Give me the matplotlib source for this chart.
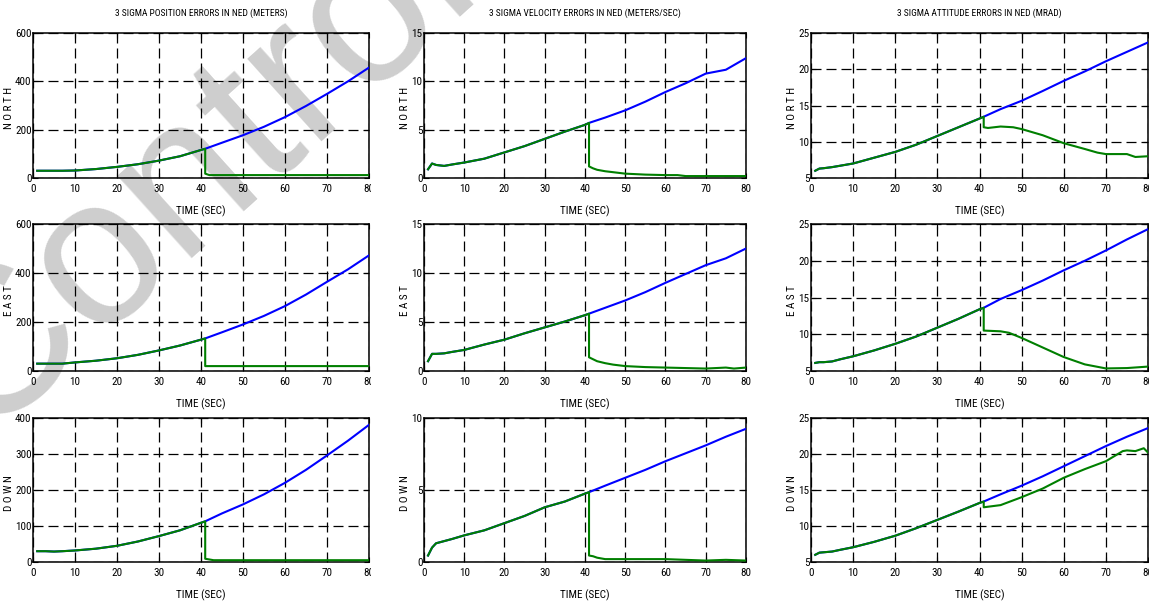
import matplotlib
matplotlib.use("Agg")
import matplotlib.pyplot as plt
from matplotlib.transforms import Bbox
from matplotlib import font_manager

# ---------------------------------------------------------------- data
time_full = [1, 2, 3, 5, 7, 10, 15, 20, 25, 30, 35, 40, 41, 45, 50, 55, 60, 65, 70, 75, 80]

# position errors (m), no update (blue)
pos_north = [30, 30, 30, 30, 30, 31, 37, 46, 57, 72, 90, 116, 121, 146, 177, 212, 252, 298, 348, 400, 457]
pos_east = [30, 30, 30, 30, 30, 35, 42, 52, 66, 84, 104, 128, 133, 158, 190, 225, 265, 312, 364, 415, 472]
pos_down = [30, 30, 30, 29, 30, 32, 37, 45, 57, 72, 88, 109, 113, 135, 160, 188, 220, 256, 296, 337, 381]

# velocity errors (m/s), no update (blue)
vel_north = [0.9, 1.5, 1.35, 1.25, 1.4, 1.6, 2.0, 2.65, 3.3, 4.05, 4.8, 5.5, 5.7, 6.25, 7.0, 7.9, 8.9, 9.8, 10.8, 11.2, 12.4]
vel_east = [1.0, 1.75, 1.75, 1.8, 1.95, 2.15, 2.7, 3.2, 3.85, 4.45, 5.05, 5.7, 5.85, 6.45, 7.2, 8.05, 9.0, 9.9, 10.8, 11.5, 12.5]
vel_down = [0.45, 1.0, 1.3, 1.45, 1.6, 1.85, 2.2, 2.7, 3.2, 3.8, 4.2, 4.75, 4.85, 5.3, 5.85, 6.4, 7.0, 7.55, 8.1, 8.7, 9.25]

# attitude errors (mrad), no update (blue)
att_north = [6.0, 6.3, 6.35, 6.5, 6.7, 7.0, 7.8, 8.6, 9.6, 10.8, 12.0, 13.2, 13.45, 14.5, 15.65, 17.0, 18.4, 19.7, 21.1, 22.4, 23.7]
att_east = [6.1, 6.2, 6.2, 6.3, 6.6, 7.0, 7.8, 8.7, 9.7, 10.9, 12.1, 13.4, 13.6, 14.8, 16.0, 17.3, 18.7, 20.0, 21.4, 22.9, 24.3]
att_down = [6.0, 6.3, 6.35, 6.45, 6.7, 7.05, 7.8, 8.65, 9.7, 10.85, 12.0, 13.2, 13.4, 14.4, 15.6, 16.9, 18.3, 19.7, 21.1, 22.4, 23.6]

# with update from t = 41 s (green), samples after the update
upd_time = 41
pos_north_t = [41, 42, 50, 60, 70, 80]
pos_north_u = [18, 12, 12, 12, 12, 12]
pos_east_t = [41, 50, 60, 70, 80]
pos_east_u = [20, 20, 20, 20, 20]
pos_down_t = [41, 42, 43, 50, 60, 70, 80]
pos_down_u = [9, 7, 5, 5, 5, 5, 5]

vel_north_t = [41, 42, 43, 45, 47, 50, 55, 60, 63, 65, 70, 80]
vel_north_u = [1.2, 1.0, 0.85, 0.7, 0.6, 0.45, 0.35, 0.3, 0.3, 0.2, 0.2, 0.2]
vel_east_t = [41, 42, 43, 45, 47, 50, 55, 60, 65, 70, 75, 77, 80]
vel_east_u = [1.4, 1.2, 1.0, 0.8, 0.65, 0.5, 0.4, 0.35, 0.3, 0.25, 0.35, 0.25, 0.35]
vel_down_t = [41, 42, 43, 45, 50, 60, 65, 70, 75, 80]
vel_down_u = [0.45, 0.4, 0.3, 0.2, 0.2, 0.2, 0.15, 0.1, 0.15, 0.1]

att_north_t = [41, 42, 45, 48, 50, 55, 60, 65, 68, 70, 75, 77, 80]
att_north_u = [12.0, 11.9, 12.1, 12.0, 11.75, 10.9, 9.8, 9.0, 8.5, 8.3, 8.3, 7.9, 8.0]
att_east_t = [41, 45, 47, 50, 55, 60, 65, 70, 75, 80]
att_east_u = [10.5, 10.4, 10.2, 9.5, 8.2, 6.9, 5.9, 5.35, 5.4, 5.6]
att_down_t = [41, 45, 50, 55, 60, 65, 70, 74, 75, 77, 79, 80]
att_down_u = [12.6, 12.9, 14.0, 15.2, 16.7, 17.9, 19.0, 20.4, 20.5, 20.4, 20.8, 20.2]

titles = ["3 SIGMA POSITION ERRORS IN NED (METERS)",
          "3 SIGMA VELOCITY ERRORS IN NED (METERS/SEC)",
          "3 SIGMA ATTITUDE ERRORS IN NED (MRAD)"]
axis_names = ["N O R T H", "E A S T", "D O W N"]
x_ticks = [0, 10, 20, 30, 40, 50, 60, 70, 80]
y_ticks = [
    [[0, 200, 400, 600], [0, 200, 400, 600], [0, 100, 200, 300, 400]],
    [[0, 5, 10, 15], [0, 5, 10, 15], [0, 5, 10]],
    [[5, 10, 15, 20, 25], [5, 10, 15, 20, 25], [5, 10, 15, 20, 25]],
]

blue_series = [[pos_north, pos_east, pos_down],
               [vel_north, vel_east, vel_down],
               [att_north, att_east, att_down]]
green_series = [[(pos_north_t, pos_north_u), (pos_east_t, pos_east_u), (pos_down_t, pos_down_u)],
                [(vel_north_t, vel_north_u), (vel_east_t, vel_east_u), (vel_down_t, vel_down_u)],
                [(att_north_t, att_north_u), (att_east_t, att_east_u), (att_down_t, att_down_u)]]

# ---------------------------------------------------------------- fonts
# prefer a narrow sans face for the labels, if one is installed
narrow_face = None
preferred = ["Liberation Sans Narrow", "Arial Narrow", "Roboto Condensed",
             "DejaVu Sans", "Open Sans Condensed", "Noto Sans"]
condensed = [f for f in font_manager.fontManager.ttflist
             if f.style == "normal" and f.weight in (400, "normal", "regular")
             and ("Narrow" in f.name or "Condensed" in f.name
                  or f.stretch in ("condensed", "semi-condensed", "extra-condensed"))]
for name in preferred:
    hits = [f for f in condensed if f.name == name]
    if hits:
        narrow_face = hits[0]
        break
if narrow_face is None and condensed:
    narrow_face = condensed[0]

if narrow_face is not None:
    plt.rcParams["font.family"] = [narrow_face.name, "DejaVu Sans"]
    plt.rcParams["font.stretch"] = narrow_face.stretch
    fs_tick, fs_title = 8, 6.8
else:
    plt.rcParams["font.family"] = ["Liberation Sans", "DejaVu Sans"]
    fs_tick, fs_title = 7, 6.0

W, H = 1149, 602
fig = plt.figure(figsize=(W / 100, H / 100), dpi=100)
fig.patch.set_facecolor("white")

# panel boxes in pixels: (left, right) per column, (top, bottom) per row
col_px = [(33, 369), (424, 746), (811, 1148)]
row_px = [(33, 178), (224, 371), (418, 562)]

# watermark behind the panels (panels have transparent faces)
fig.text(-0.0170, 0.270, "Controlled", fontsize=151, color="#cecece",
         rotation=42, rotation_mode="anchor", ha="left", va="baseline",
         family="Liberation Sans", stretch="normal", zorder=-1)

for c in range(3):
    for r in range(3):
        l, rt = col_px[c]
        tp, bt = row_px[r]
        ax = fig.add_axes([l / W, (H - bt) / H, (rt - l) / W, (bt - tp) / H])
        ax.set_facecolor("none")
        blue = blue_series[c][r]
        gt, gu = green_series[c][r]
        n_pre = time_full.index(upd_time) + 1
        green_t = time_full[:n_pre] + gt
        green_v = blue[:n_pre] + gu
        ax.plot(time_full, blue, color="#0000ff", lw=1.5, zorder=3)
        ax.plot(green_t, green_v, color="#007f00", lw=1.5, zorder=4)

        ax.set_xlim(0, 80)
        yt = y_ticks[c][r]
        ax.set_ylim(yt[0], yt[-1])
        ax.set_xticks(x_ticks)
        ax.set_yticks(yt)
        ax.grid(True, color="black", linestyle=(0, (8, 4)), linewidth=0.9)
        ax.tick_params(direction="in", length=3.5, width=0.8, top=True, right=True,
                       labelsize=fs_tick, pad=4)
        ax.tick_params(axis="y", pad=1)
        for s in ax.spines.values():
            s.set_linewidth(1.1)
            s.set_color("black")

        ax.set_ylabel(axis_names[r], fontsize=fs_tick)
        ylx = {0: -0.058, 1: -0.045, 2: -0.043}[c]
        ax.yaxis.set_label_coords(ylx, 0.48)
        ax.set_xlabel("TIME (SEC)", fontsize=fs_tick)
        ax.xaxis.set_label_coords(0.5, -0.19)
        if r == 0:
            ax.set_title(titles[c], fontsize=fs_title, pad=12)

        if c == 0:
            clip = Bbox.from_extents(0, 0, 371, H)
            for lab in ax.get_xticklabels():
                lab.set_clip_box(clip)
                lab.set_clip_on(True)

fig.savefig("out.png", dpi=100, facecolor="white")
